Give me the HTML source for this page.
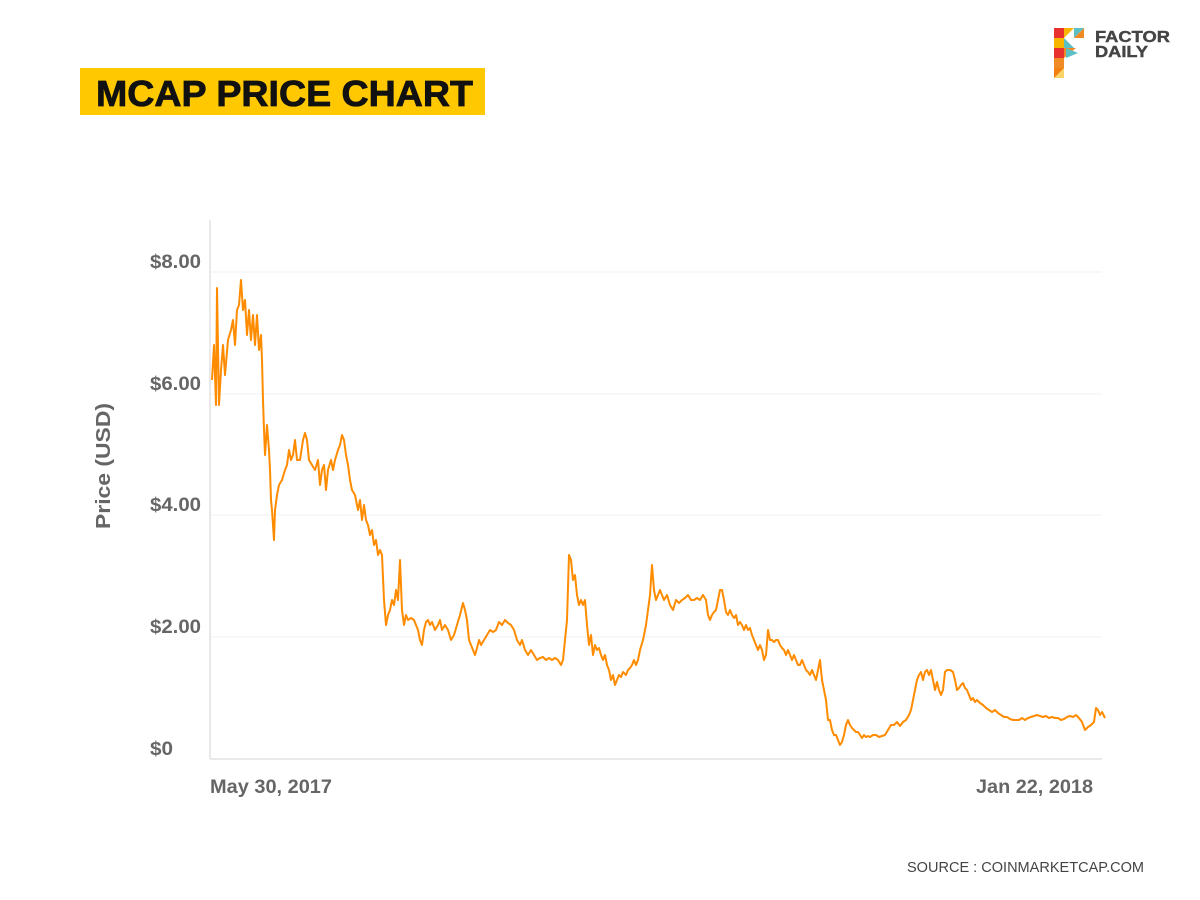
<!DOCTYPE html>
<html><head><meta charset="utf-8"><style>
html,body{margin:0;padding:0;background:#fff;}
svg{display:block;}
text{font-family:"Liberation Sans",sans-serif;}
</style></head><body>
<svg width="1200" height="900" viewBox="0 0 1200 900" xmlns="http://www.w3.org/2000/svg">
<rect width="1200" height="900" fill="#fff"/>
<rect x="80" y="68" width="405" height="47" fill="#ffc800"/>
<text x="96" y="106" font-size="36" font-weight="bold" fill="#111" stroke="#111" stroke-width="0.8" textLength="377" lengthAdjust="spacingAndGlyphs">MCAP PRICE CHART</text>
<g>
<rect x="1054" y="28" width="10" height="10" fill="#e8312f"/>
<polygon points="1064,28 1074,28 1064,38" fill="#f7b500"/>
<polygon points="1074,28 1084,28 1074,38" fill="#5bc0c4"/>
<polygon points="1074,38 1084,28 1084,38" fill="#f08a24"/>
<rect x="1054" y="38" width="10" height="10" fill="#f7b500"/>
<polygon points="1064,38 1074,48 1064,48" fill="#5bc0c4"/>
<rect x="1054" y="48" width="10" height="10" fill="#e8312f"/>
<polygon points="1064,48 1076,48 1064,58" fill="#f08a24"/>
<polygon points="1066,48 1078,53 1066,58" fill="#5bc0c4"/>
<rect x="1054" y="58" width="10" height="10" fill="#f08a24"/>
<polygon points="1054,68 1064,68 1054,78" fill="#e8312f"/>
<rect x="1054" y="68" width="10" height="10" fill="#f7b500" opacity="0.6"/>
</g>
<text x="1095" y="42" font-size="16" font-weight="bold" fill="#444" stroke="#444" stroke-width="0.4" textLength="75" lengthAdjust="spacingAndGlyphs">FACTOR</text>
<text x="1095" y="57" font-size="16" font-weight="bold" fill="#444" stroke="#444" stroke-width="0.4" textLength="53" lengthAdjust="spacingAndGlyphs">DAILY</text>
<g stroke="#f0f0f0" stroke-width="1">
<line x1="210" y1="272" x2="1102" y2="272"/>
<line x1="210" y1="394" x2="1102" y2="394"/>
<line x1="210" y1="515" x2="1102" y2="515"/>
<line x1="210" y1="637" x2="1102" y2="637"/>
</g>
<line x1="210" y1="220" x2="210" y2="759" stroke="#e2e2e2" stroke-width="1.5"/>
<line x1="210" y1="759" x2="1102" y2="759" stroke="#e2e2e2" stroke-width="1.5"/>
<g font-size="19" font-weight="bold" fill="#666">
<text x="150" y="268" textLength="51" lengthAdjust="spacingAndGlyphs">$8.00</text>
<text x="150" y="390" textLength="51" lengthAdjust="spacingAndGlyphs">$6.00</text>
<text x="150" y="511" textLength="51" lengthAdjust="spacingAndGlyphs">$4.00</text>
<text x="150" y="633" textLength="51" lengthAdjust="spacingAndGlyphs">$2.00</text>
<text x="150" y="755" textLength="23" lengthAdjust="spacingAndGlyphs">$0</text>
</g>
<text transform="translate(110,466) rotate(-90)" font-size="20" font-weight="bold" fill="#666" text-anchor="middle" textLength="126" lengthAdjust="spacingAndGlyphs">Price (USD)</text>
<text x="210" y="793" font-size="19" font-weight="bold" fill="#666" textLength="122" lengthAdjust="spacingAndGlyphs">May 30, 2017</text>
<text x="976" y="793" font-size="19" font-weight="bold" fill="#666" textLength="117" lengthAdjust="spacingAndGlyphs">Jan 22, 2018</text>
<text x="907" y="872" font-size="15" fill="#444" textLength="237" lengthAdjust="spacingAndGlyphs">SOURCE : COINMARKETCAP.COM</text>
<polyline fill="none" stroke="#ff8c00" stroke-width="2" stroke-linejoin="round" points="212,380 214,345 216,405 217,288 219,405 221,370 223,345 225,375 228,340 231,330 233,320 235,345 237,310 239,305 241,280 243,310 245,300 247,335 249,310 251,340 253,315 255,345 257,315 259,350 261,335 262,360 263,400 264,430 265,455 267,425 269,450 270,470 271,500 272,510 274,540 275,510 277,495 279,485 282,480 285,470 287,465 289,450 291,460 293,455 295,440 297,460 300,460 303,440 305,433 307,440 309,460 312,465 315,470 318,460 320,485 322,470 324,465 326,490 328,470 331,460 333,470 335,460 338,450 340,445 342,435 344,440 346,455 348,465 350,480 352,490 355,495 358,510 360,500 362,520 364,505 366,520 368,525 370,535 372,530 374,545 376,540 378,555 380,550 382,555 384,600 386,625 388,615 390,610 392,600 394,605 396,590 398,600 400,560 402,610 404,625 406,615 408,620 411,618 414,620 416,625 418,630 420,640 422,645 424,630 426,622 428,620 430,625 432,622 435,630 438,625 440,620 442,630 445,625 448,630 451,640 454,635 457,625 460,615 463,603 465,610 467,620 469,640 471,645 473,650 475,655 477,648 479,640 481,645 484,640 487,635 490,630 493,632 496,630 499,622 502,625 505,620 508,623 511,625 514,630 517,640 520,645 522,640 525,650 528,655 531,650 534,655 537,660 540,658 543,657 546,660 549,658 552,660 555,658 558,660 561,665 563,660 565,640 567,620 569,555 571,560 573,580 575,575 577,595 579,605 581,600 583,605 585,600 587,625 589,645 591,635 593,655 595,645 597,650 599,648 601,655 603,660 605,655 607,665 609,670 611,680 613,675 615,685 617,680 619,675 621,677 623,672 626,675 628,670 630,668 632,665 634,660 636,665 638,660 640,650 643,640 646,625 648,610 650,595 652,565 654,590 656,600 658,595 660,590 662,595 664,600 667,595 670,605 673,610 676,600 679,603 682,600 685,598 688,595 691,600 694,600 697,598 700,600 703,595 706,600 708,615 710,620 712,615 714,612 716,610 718,600 720,590 722,590 724,600 726,612 728,615 730,610 732,615 734,618 736,615 738,625 740,622 742,625 744,630 746,625 748,630 750,628 752,635 754,640 756,645 758,650 760,645 762,650 764,660 766,655 768,630 770,640 772,640 774,642 776,640 778,640 780,645 782,648 784,650 786,655 788,650 790,655 792,660 794,655 796,660 798,665 800,665 802,660 804,665 806,670 808,672 810,675 812,670 814,675 816,680 818,670 820,660 822,680 824,690 826,700 828,720 830,720 832,730 834,735 836,735 838,740 840,745 842,742 844,735 846,725 848,720 850,725 852,728 854,730 856,732 858,732 860,735 862,738 864,735 866,737 868,736 870,737 873,735 876,735 879,737 882,736 885,735 888,730 891,725 894,725 897,722 900,726 903,722 906,720 909,715 911,710 913,700 915,690 917,680 919,675 921,672 923,680 925,672 927,670 929,675 931,670 933,680 935,690 937,682 939,690 941,695 943,690 945,672 947,670 950,670 953,672 955,680 957,690 959,688 961,685 963,683 965,688 967,690 969,695 971,700 973,698 975,702 977,700 980,703 983,705 986,708 989,710 992,712 995,710 998,713 1001,715 1004,717 1007,717 1010,719 1013,720 1016,720 1019,720 1022,718 1025,720 1028,718 1031,717 1034,716 1037,715 1040,716 1043,717 1046,716 1049,718 1052,717 1055,718 1058,718 1061,720 1064,719 1067,717 1070,716 1073,717 1076,715 1079,718 1082,722 1085,730 1088,727 1091,725 1094,722 1096,708 1098,710 1100,715 1102,712 1105,718"/>
</svg>
</body></html>
